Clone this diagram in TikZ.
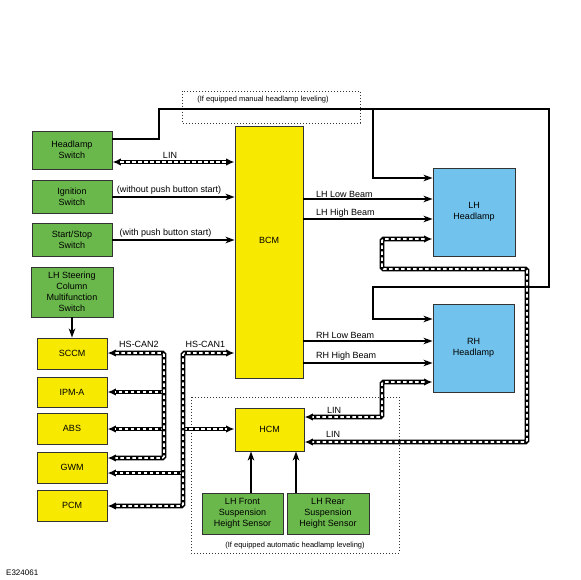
\documentclass[tikz,border=0pt]{standalone}
\usepackage{fontspec}
\setmainfont{Liberation Sans}
\usepackage{tikz}
\usetikzlibrary{arrows.meta}

\definecolor{swgreen}{RGB}{106,183,76}
\definecolor{ecuyellow}{RGB}{247,234,0}
\definecolor{lampblue}{RGB}{113,194,236}

\begin{document}
\begin{tikzpicture}[x=1pt, y=-1pt,
            font=\fontsize{9}{11}\selectfont,
            box/.style={draw=black!80, line width=0.9pt, rectangle, inner sep=1pt, align=center},
            gbox/.style={box, fill=swgreen},
            ybox/.style={box, fill=ecuyellow},
            bbox/.style={box, fill=lampblue},
            wire/.style={line width=2.4pt},
            wireto/.style={wire, -{Stealth[length=9pt, width=6.5pt, inset=2.5pt]}},
            bus/.style n args={3}{line width=4.8pt, rounded corners=1.5pt, #1,
              postaction={draw=white, line width=1.6pt, dash pattern=on 3.5pt off 2.5pt, -, shorten <=#2, shorten >=#3}},
            busto/.style={bus={-{Latex[length=8.5pt, width=7.5pt]}}{0pt}{8pt}},
            busboth/.style={bus={{Latex[length=8.5pt, width=7.5pt]}-{Latex[length=8.5pt, width=7.5pt]}}{8pt}{8pt}},
            dotbox/.style={draw=black!80, line width=0.9pt, dash pattern=on 0.9pt off 2.1pt},
            lbl/.style={inner sep=0pt},
            note/.style={inner sep=0pt, font=\fontsize{7.5}{9}\selectfont}]

            \useasboundingbox (0,0) rectangle (580,580);

            % optional areas
            \draw[dotbox] (182,91) rectangle (360,123);
            \node[note] (manual) at (263,100) {(If equipped manual headlamp leveling)};
            \draw[dotbox] (191,397) rectangle (399,553);
            \node[note] (auto) at (295,546) {(If equipped automatic headlamp leveling)};

            % switches
            \node[gbox, minimum width=80pt, minimum height=38pt] (hsw) at (72,150) {Headlamp\\Switch};
            \node[gbox, minimum width=80pt, minimum height=33pt] (ign) at (72,196.5) {Ignition\\Switch};
            \node[gbox, minimum width=80pt, minimum height=33pt] (sss) at (72,239.5) {Start/Stop\\Switch};
            \node[gbox, minimum width=82pt, minimum height=50pt] (steer) at (72,292) {LH Steering\\Column\\Multifunction\\Switch};

            % modules
            \node[ybox, minimum width=70pt, minimum height=31pt] (sccm) at (72,353.5) {SCCM};
            \node[ybox, minimum width=70pt, minimum height=30pt] (ipma) at (72,392) {IPM-A};
            \node[ybox, minimum width=70pt, minimum height=31pt] (abs) at (72,428.5) {ABS};
            \node[ybox, minimum width=70pt, minimum height=31pt] (gwm) at (72,467.5) {GWM};
            \node[ybox, minimum width=70pt, minimum height=31pt] (pcm) at (72,505.5) {PCM};
            \node[ybox, minimum width=68pt, minimum height=252pt, label={[yshift=11.5pt]center:BCM}] (bcm) at (269,252) {};
            \node[ybox, minimum width=69pt, minimum height=43pt] (hcm) at (269.5,429.5) {HCM};

            % headlamps
            \node[bbox, minimum width=82pt, minimum height=88pt] (lhh) at (474,212) {LH\\Headlamp};
            \node[bbox, minimum width=81pt, minimum height=88pt] (rhh) at (473.5,348) {RH\\Headlamp};

            % sensors
            \node[gbox, minimum width=81pt, minimum height=41pt] (lhf) at (242.5,513.5) {LH Front\\Suspension\\Height Sensor};
            \node[gbox, minimum width=82pt, minimum height=41pt] (lhr) at (328,513.5) {LH Rear\\Suspension\\Height Sensor};

            % bend points
            \coordinate (w1) at (159,139);
            \coordinate (w2) at (159,109);
            \coordinate (w3) at (549,109);
            \coordinate (w4) at (549,287);
            \coordinate (w5) at (373,287);
            \coordinate (wtap) at (373,109);
            \coordinate (can2top) at (164,353);
            \coordinate (can2bot) at (164,458);
            \coordinate (can1top) at (183,353);
            \coordinate (can1bot) at (183,506);
            \coordinate (lhbus1) at (382,239);
            \coordinate (lhbus2) at (382,269);
            \coordinate (lhbus3) at (527,269);
            \coordinate (lhbus4) at (527,442);
            \coordinate (rhbus1) at (382,382);
            \coordinate (rhbus2) at (382,417);

            % hardwired
            \draw[wireto] (hsw.east |- w1) -- (w1) -- (w2) -- (w3) -- (w4) -- (w5) |- (rhh.west |- 0,319);
            \draw[wireto] (wtap) |- (lhh.west |- 0,178);
            \draw[wireto] (ign.east |- 0,197) -- (bcm.west |- 0,197);
            \draw[wireto] (sss.east |- 0,240) -- (bcm.west |- 0,240);
            \draw[wireto] (steer.south) -- (sccm.north);
            \draw[wireto] (bcm.east |- 0,199) -- (lhh.west |- 0,199);
            \draw[wireto] (bcm.east |- 0,219) -- (lhh.west |- 0,219);
            \draw[wireto] (bcm.east |- 0,341) -- (rhh.west |- 0,341);
            \draw[wireto] (bcm.east |- 0,363) -- (rhh.west |- 0,363);
            \draw[wireto] (lhf.north -| 251,0) -- (hcm.south -| 251,0);
            \draw[wireto] (lhr.north -| 296,0) -- (hcm.south -| 296,0);

            % network
            \draw[busboth] (hsw.east |- 0,162) -- (bcm.west |- 0,162);
            \draw[busto] (can2top |- 0,392) -- (ipma.east |- 0,392);
            \draw[busto] (can2top |- 0,429) -- (abs.east |- 0,429);
            \draw[busboth] (sccm.east |- can2top) -- (can2top) -- (can2bot) -- (gwm.east |- can2bot);
            \draw[busto] (can1top |- 0,429) -- (hcm.west |- 0,429);
            \draw[busto] (can1top |- 0,473) -- (gwm.east |- 0,473);
            \draw[busboth] (bcm.west |- can1top) -- (can1top) -- (can1bot) -- (pcm.east |- can1bot);
            \draw[busboth] (lhh.west |- lhbus1) -- (lhbus1) -- (lhbus2) -- (lhbus3) -- (lhbus4) -- (hcm.east |- lhbus4);
            \draw[busboth] (rhh.west |- rhbus1) -- (rhbus1) -- (rhbus2) -- (hcm.east |- rhbus2);

            % labels
            \node[lbl] (linhsw) at (170,155.5) {LIN};
            \node[lbl] (noppb) at (169,190.5) {(without push button start)};
            \node[lbl] (ppb) at (165.5,233.5) {(with push button start)};
            \node[lbl, anchor=west] (lhlow) at (316,194.5) {LH Low Beam};
            \node[lbl, anchor=west] (lhhigh) at (316,213.5) {LH High Beam};
            \node[lbl, anchor=west] (rhlow) at (316,335) {RH Low Beam};
            \node[lbl, anchor=west] (rhhigh) at (316,356.5) {RH High Beam};
            \node[lbl] (can2) at (139,344.5) {HS-CAN2};
            \node[lbl] (can1) at (205.5,344.5) {HS-CAN1};
            \node[lbl] (linrh) at (334,410) {LIN};
            \node[lbl] (linlh) at (333,434) {LIN};
            \node[lbl, anchor=west, font=\fontsize{8}{10}\selectfont] (figid) at (6,572.5) {E324061};
        \end{tikzpicture}
\end{document}
